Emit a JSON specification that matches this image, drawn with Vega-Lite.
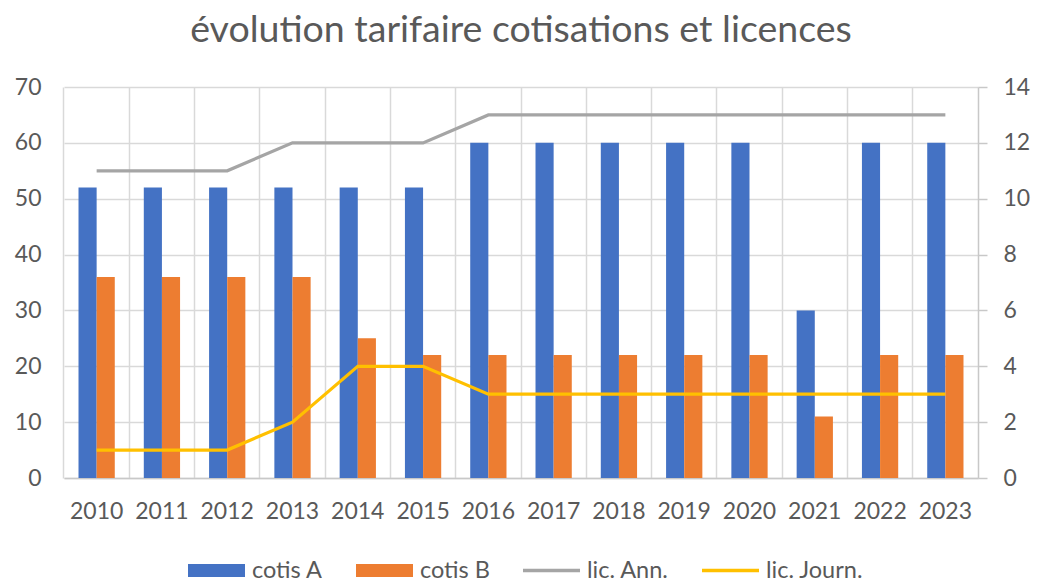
{
  "$schema": "https://vega.github.io/schema/vega-lite/v6.json",
  "width": 914,
  "height": 391,
  "autosize": {"type": "none"},
  "padding": {"left": 64, "top": 87, "right": 59, "bottom": 104},
  "background": "white",
  "config": {
    "font": "Lato",
    "view": {"stroke": null},
    "axis": {"labelColor": "#595959", "labelFont": "Lato", "labelFontSize": 23, "gridColor": "#D9D9D9", "gridWidth": 1.5, "titleColor": "#595959"}
  },
  "title": {"text": "évolution tarifaire cotisations et licences", "fontSize": 37.5, "fontWeight": "normal", "color": "#595959", "font": "Lato", "anchor": "middle", "offset": 27},
  "datasets": {
    "bars": [
      {"year": "2010", "series": "cotis A", "value": 52}, {"year": "2010", "series": "cotis B", "value": 36},
      {"year": "2011", "series": "cotis A", "value": 52}, {"year": "2011", "series": "cotis B", "value": 36},
      {"year": "2012", "series": "cotis A", "value": 52}, {"year": "2012", "series": "cotis B", "value": 36},
      {"year": "2013", "series": "cotis A", "value": 52}, {"year": "2013", "series": "cotis B", "value": 36},
      {"year": "2014", "series": "cotis A", "value": 52}, {"year": "2014", "series": "cotis B", "value": 25},
      {"year": "2015", "series": "cotis A", "value": 52}, {"year": "2015", "series": "cotis B", "value": 22},
      {"year": "2016", "series": "cotis A", "value": 60}, {"year": "2016", "series": "cotis B", "value": 22},
      {"year": "2017", "series": "cotis A", "value": 60}, {"year": "2017", "series": "cotis B", "value": 22},
      {"year": "2018", "series": "cotis A", "value": 60}, {"year": "2018", "series": "cotis B", "value": 22},
      {"year": "2019", "series": "cotis A", "value": 60}, {"year": "2019", "series": "cotis B", "value": 22},
      {"year": "2020", "series": "cotis A", "value": 60}, {"year": "2020", "series": "cotis B", "value": 22},
      {"year": "2021", "series": "cotis A", "value": 30}, {"year": "2021", "series": "cotis B", "value": 11},
      {"year": "2022", "series": "cotis A", "value": 60}, {"year": "2022", "series": "cotis B", "value": 22},
      {"year": "2023", "series": "cotis A", "value": 60}, {"year": "2023", "series": "cotis B", "value": 22}
    ],
    "lic": [
      {"year": "2010", "series": "lic. Ann.", "value": 11}, {"year": "2010", "series": "lic. Journ.", "value": 1},
      {"year": "2011", "series": "lic. Ann.", "value": 11}, {"year": "2011", "series": "lic. Journ.", "value": 1},
      {"year": "2012", "series": "lic. Ann.", "value": 11}, {"year": "2012", "series": "lic. Journ.", "value": 1},
      {"year": "2013", "series": "lic. Ann.", "value": 12}, {"year": "2013", "series": "lic. Journ.", "value": 2},
      {"year": "2014", "series": "lic. Ann.", "value": 12}, {"year": "2014", "series": "lic. Journ.", "value": 4},
      {"year": "2015", "series": "lic. Ann.", "value": 12}, {"year": "2015", "series": "lic. Journ.", "value": 4},
      {"year": "2016", "series": "lic. Ann.", "value": 13}, {"year": "2016", "series": "lic. Journ.", "value": 3},
      {"year": "2017", "series": "lic. Ann.", "value": 13}, {"year": "2017", "series": "lic. Journ.", "value": 3},
      {"year": "2018", "series": "lic. Ann.", "value": 13}, {"year": "2018", "series": "lic. Journ.", "value": 3},
      {"year": "2019", "series": "lic. Ann.", "value": 13}, {"year": "2019", "series": "lic. Journ.", "value": 3},
      {"year": "2020", "series": "lic. Ann.", "value": 13}, {"year": "2020", "series": "lic. Journ.", "value": 3},
      {"year": "2021", "series": "lic. Ann.", "value": 13}, {"year": "2021", "series": "lic. Journ.", "value": 3},
      {"year": "2022", "series": "lic. Ann.", "value": 13}, {"year": "2022", "series": "lic. Journ.", "value": 3},
      {"year": "2023", "series": "lic. Ann.", "value": 13}, {"year": "2023", "series": "lic. Journ.", "value": 3}
    ]
  },
  "layer": [
    {
      "data": {"name": "bars"},
      "mark": {"type": "bar"},
      "encoding": {
        "x": {"field": "year", "type": "nominal", "sort": null, "scale": {"paddingInner": 0, "paddingOuter": 0},
              "axis": {"title": null, "labelAngle": 0, "labelPadding": 22, "grid": false, "ticks": false, "domain": true, "domainColor": "#C8C8C8", "domainWidth": 1.5}},
        "xOffset": {"field": "series", "type": "nominal", "scale": {"paddingInner": 0, "paddingOuter": 0.8}},
        "y": {"field": "value", "type": "quantitative", "scale": {"domain": [0, 70], "nice": false},
              "axis": {"title": null, "orient": "left", "values": [0, 10, 20, 30, 40, 50, 60, 70], "domain": false, "ticks": false, "grid": true, "labelPadding": 23}},
        "color": {"field": "series", "type": "nominal",
                  "scale": {"domain": ["cotis A", "cotis B", "lic. Ann.", "lic. Journ."], "range": ["#4472C4", "#ED7D31", "#A5A5A5", "#FFC000"]},
                  "legend": {"title": null, "orient": "none", "direction": "horizontal", "columns": 4, "legendX": 124, "legendY": 455,
                             "labelFont": "Lato", "labelFontSize": 23.5, "labelColor": "#595959", "labelOffset": 7, "columnPadding": 33,
                             "symbolSize": 3249, "symbolStrokeWidth": 0,
                             "encode": {"symbols": {"update": {
                               "shape": {"signal": "(datum.value === 'cotis A' || datum.value === 'cotis B') ? 'M-1,-0.23H1V0.23H-1Z' : 'M-1,-0.065H1V0.065H-1Z'"},
                               "fill": {"signal": "scale('color', datum.value)"},
                               "strokeWidth": {"value": 0},
                               "opacity": {"value": 1}}}}}}
      }
    },
    {
      "data": {"name": "lic"},
      "mark": {"type": "line", "strokeWidth": 3.2},
      "encoding": {
        "x": {"field": "year", "type": "nominal", "sort": null,
              "axis": {"orient": "bottom", "title": null, "labels": false, "ticks": false, "domain": false, "grid": true, "bandPosition": 0}},
        "y": {"field": "value", "type": "quantitative", "scale": {"domain": [0, 14], "nice": false},
              "axis": {"title": null, "orient": "right", "values": [0, 2, 4, 6, 8, 10, 12, 14], "grid": false, "domain": true, "domainColor": "#C8C8C8", "domainWidth": 1.5, "ticks": true, "tickSize": 9, "tickColor": "#C8C8C8", "tickWidth": 1.5, "labelPadding": 16}},
        "color": {"field": "series", "type": "nominal",
                  "scale": {"domain": ["cotis A", "cotis B", "lic. Ann.", "lic. Journ."], "range": ["#4472C4", "#ED7D31", "#A5A5A5", "#FFC000"]},
                  "legend": {"title": null, "orient": "none", "direction": "horizontal", "columns": 4, "legendX": 124, "legendY": 455,
                             "labelFont": "Lato", "labelFontSize": 23.5, "labelColor": "#595959", "labelOffset": 7, "columnPadding": 33,
                             "symbolSize": 3249, "symbolStrokeWidth": 0,
                             "encode": {"symbols": {"update": {
                               "shape": {"signal": "(datum.value === 'cotis A' || datum.value === 'cotis B') ? 'M-1,-0.23H1V0.23H-1Z' : 'M-1,-0.065H1V0.065H-1Z'"},
                               "fill": {"signal": "scale('color', datum.value)"},
                               "strokeWidth": {"value": 0},
                               "opacity": {"value": 1}}}}}}
      }
    }
  ],
  "resolve": {"scale": {"y": "independent"}, "axis": {"x": "independent"}}
}
